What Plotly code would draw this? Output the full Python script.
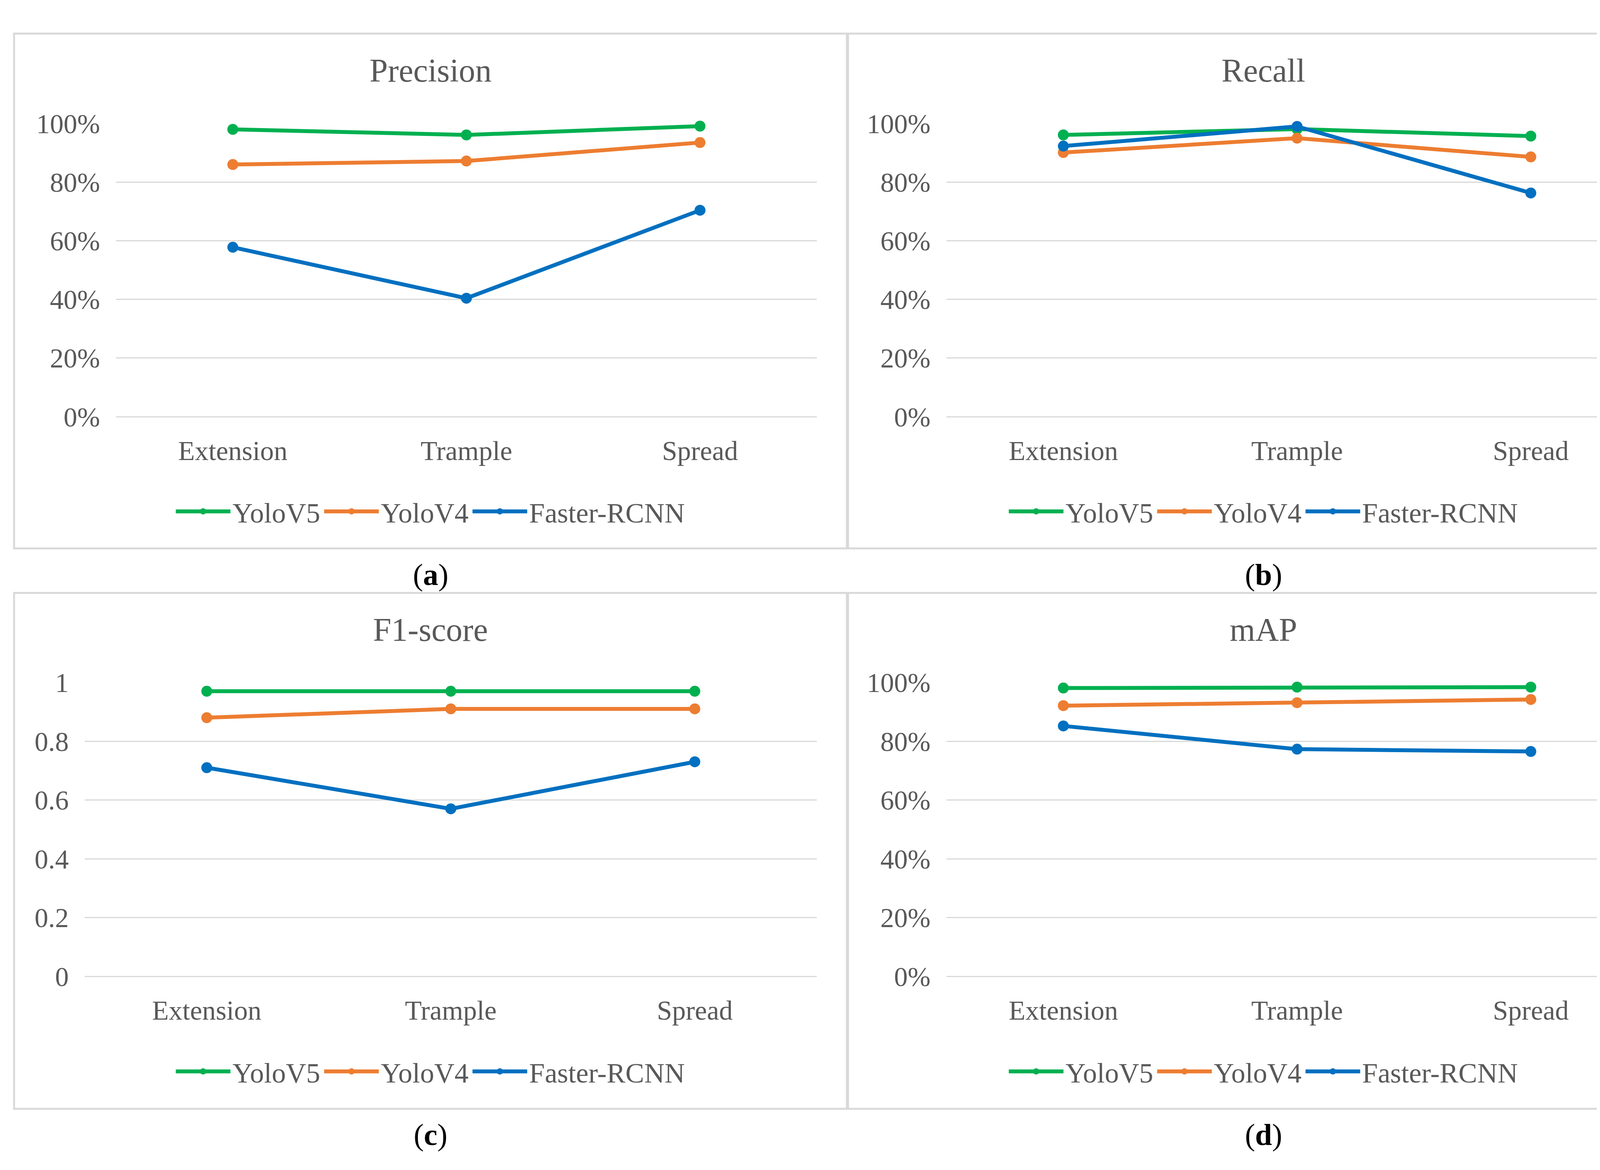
import plotly.graph_objects as go

W, H = 4319, 2996

categories = ["Extension", "Trample", "Spread"]
series_names = ["YoloV5", "YoloV4", "Faster-RCNN"]
colors = ["#00B050", "#ED7D31", "#0070C0"]

precision_yolov5 = [0.980, 0.961, 0.991]
precision_yolov4 = [0.860, 0.872, 0.935]
precision_faster = [0.578, 0.404, 0.704]

recall_yolov5 = [0.961, 0.981, 0.957]
recall_yolov4 = [0.901, 0.950, 0.886]
recall_faster = [0.923, 0.990, 0.763]

f1_yolov5 = [0.97, 0.97, 0.97]
f1_yolov4 = [0.88, 0.91, 0.91]
f1_faster = [0.71, 0.57, 0.73]

map_yolov5 = [0.981, 0.984, 0.984]
map_yolov4 = [0.921, 0.931, 0.942]
map_faster = [0.852, 0.773, 0.765]

panel_titles = ["Precision", "Recall", "F1-score", "mAP"]
panel_labels = ["a", "b", "c", "d"]
panel_data = [
    [precision_yolov5, precision_yolov4, precision_faster],
    [recall_yolov5, recall_yolov4, recall_faster],
    [f1_yolov5, f1_yolov4, f1_faster],
    [map_yolov5, map_yolov4, map_faster],
]
tick_formats = [".0%", ".0%", "", ".0%"]

# layout geometry (pixels)
plot_x = [(289, 2083), (2415, 4210), (209, 2083), (2415, 4210)]
plot_y = [(278, 1049), (278, 1049), (1747, 2520), (1747, 2520)]
box_x = [(28, 2160), (2163, 4290), (28, 2160), (2163, 4290)]
box_y = [(42, 1395), (42, 1395), (1512, 2868), (1512, 2868)]
label_y = [1464, 1464, 2936, 2936]
legend_y = [1298, 1298, 2770, 2770]

FONT = "Liberation Serif"
GRAY = "#595959"

def px_x(v):
    return v / W

def px_y(v):
    return 1 - v / H

fig = go.Figure()
layout = dict(
    width=W, height=H,
    margin=dict(l=0, r=0, t=0, b=0),
    paper_bgcolor="white", plot_bgcolor="white",
    font=dict(family=FONT, color=GRAY, size=70),
    hovermode=False,
    shapes=[], annotations=[],
)

for i in range(4):
    n = "" if i == 0 else str(i + 1)
    legname = "legend" + n
    for s in range(3):
        fig.add_trace(go.Scatter(
            x=categories, y=panel_data[i][s], name=series_names[s],
            mode="lines+markers",
            line=dict(color=colors[s], width=10),
            marker=dict(color=colors[s], size=28),
            cliponaxis=False,
            xaxis="x" + n, yaxis="y" + n,
            legend=legname,
        ))
    x0, x1 = plot_x[i]
    y0, y1 = plot_y[i]
    layout["xaxis" + n] = dict(
        domain=[px_x(x0), px_x(x1)], anchor="y" + n,
        type="category", range=[-0.5, 2.5],
        showgrid=False, zeroline=False, showline=False, ticks="",
        tickfont=dict(family=FONT, color=GRAY, size=70),
        ticklabelstandoff=40,
    )
    layout["yaxis" + n] = dict(
        domain=[px_y(y1), px_y(y0)], anchor="x" + n,
        range=[0, 1.0005], dtick=0.2, tick0=0,
        tickformat=tick_formats[i],
        showgrid=True, gridcolor="#D9D9D9", gridwidth=3,
        zeroline=True, zerolinecolor="#D9D9D9", zerolinewidth=3,
        showline=False, ticks="",
        tickfont=dict(family=FONT, color=GRAY, size=70),
        ticklabelstandoff=40,
    )
    bx0, bx1 = box_x[i]
    by0, by1 = box_y[i]
    layout["shapes"].append(dict(
        type="rect", xref="paper", yref="paper",
        x0=px_x(bx0), x1=px_x(bx1), y0=px_y(by1), y1=px_y(by0),
        line=dict(color="#D9D9D9", width=5), fillcolor="rgba(0,0,0,0)",
        layer="below",
    ))
    cx = (bx0 + bx1) / 2
    layout["annotations"].append(dict(
        text=panel_titles[i], xref="paper", yref="paper",
        x=px_x(cx), y=px_y(by0 + 97), xanchor="center", yanchor="middle",
        showarrow=False, font=dict(family=FONT, size=84, color=GRAY),
    ))
    layout["annotations"].append(dict(
        text="(<b>" + panel_labels[i] + "</b>)", xref="paper", yref="paper",
        x=px_x(cx), y=px_y(label_y[i]), xanchor="center", yanchor="middle",
        showarrow=False, font=dict(family=FONT, size=78, color="black"),
    ))
    layout[legname] = dict(
        orientation="h", x=px_x(cx), y=px_y(legend_y[i]),
        xanchor="center", yanchor="middle",
        font=dict(family=FONT, size=72, color=GRAY),
        bgcolor="rgba(0,0,0,0)", itemwidth=140,
        tracegroupgap=0,
    )

fig.update_layout(**layout)
fig.write_html("out.html")
